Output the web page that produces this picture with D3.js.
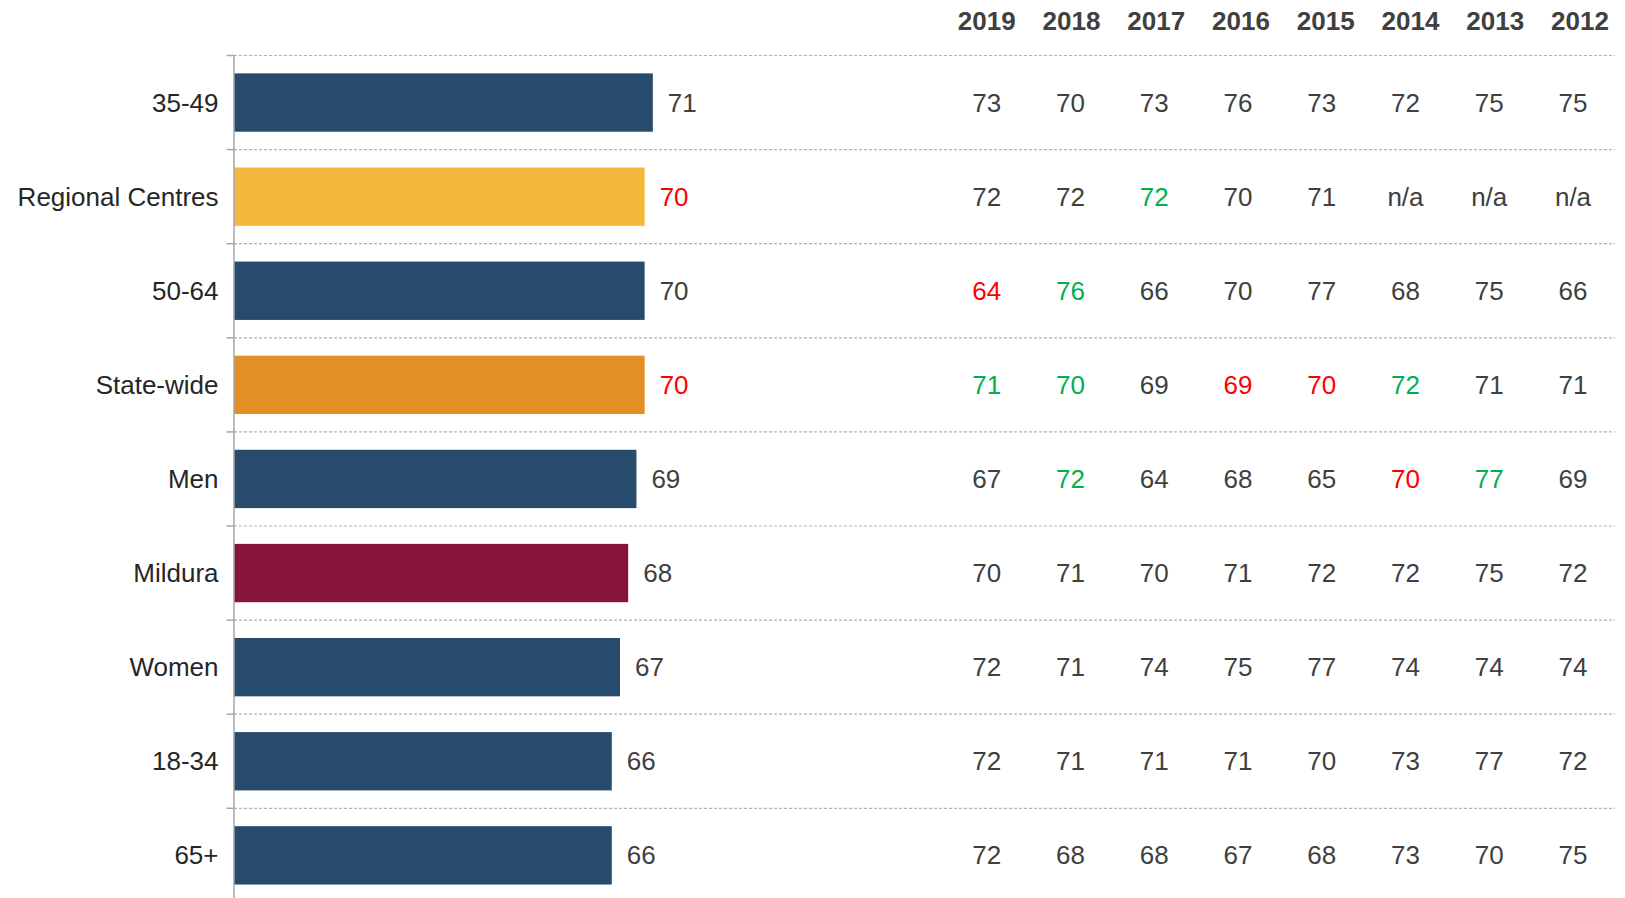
<!DOCTYPE html>
<html>
<head>
<meta charset="utf-8">
<script src="https://cdn.jsdelivr.net/npm/d3@7"></script>
<style>
  html, body { margin: 0; padding: 0; background: #ffffff; }
  svg { display: block; font-family: "Liberation Sans", Arial, sans-serif; }
</style>
</head>
<body>
<svg id="chart" width="1625" height="898"></svg>
<script>
// ---- data ----
const categories = ["35-49", "Regional Centres", "50-64", "State-wide", "Men", "Mildura", "Women", "18-34", "65+"];
const groupType  = ["segment", "regional", "segment", "state", "segment", "council", "segment", "segment", "segment"];
const score2020  = [71, 70, 70, 70, 69, 68, 67, 66, 66];
const score2020Sig = ["", "down", "", "down", "", "", "", "", ""];

const years = ["2019", "2018", "2017", "2016", "2015", "2014", "2013", "2012"];
const history = [
  [73, 70, 73, 76, 73, 72, 75, 75],
  [72, 72, 72, 70, 71, "n/a", "n/a", "n/a"],
  [64, 76, 66, 70, 77, 68, 75, 66],
  [71, 70, 69, 69, 70, 72, 71, 71],
  [67, 72, 64, 68, 65, 70, 77, 69],
  [70, 71, 70, 71, 72, 72, 75, 72],
  [72, 71, 74, 75, 77, 74, 74, 74],
  [72, 71, 71, 71, 70, 73, 77, 72],
  [72, 68, 68, 67, 68, 73, 70, 75]
];
const historySig = [
  ["", "", "", "", "", "", "", ""],
  ["", "", "up", "", "", "", "", ""],
  ["down", "up", "", "", "", "", "", ""],
  ["up", "up", "", "down", "down", "up", "", ""],
  ["", "up", "", "", "", "down", "up", ""],
  ["", "", "", "", "", "", "", ""],
  ["", "", "", "", "", "", "", ""],
  ["", "", "", "", "", "", "", ""],
  ["", "", "", "", "", "", "", ""]
];
const xDomain = [20, 100];

(function () {
// ---- styles ----
const barColor = { segment: "#274B6C", regional: "#F5B83C", state: "#E38F26", council: "#87143D" };
const sigColor = { "": "#404040", up: "#00B050", down: "#FF0000" };
const textColor = "#404040";
const fontSize = 26;

const svg = d3.select("#chart");
const axisX = 234, gridRight = 1615;
const plotTop = 55.5, rowStep = 94.1;

const x = d3.scaleLinear().domain(xDomain).range([axisX, 891]);
const y = d3.scaleBand().domain(categories)
  .range([plotTop, plotTop + rowStep * categories.length])
  .paddingInner(0.38).paddingOuter(0.19);

const headX = d3.scalePoint().domain(years).range([986.7, 1580]);
const colX = d3.scalePoint().domain(years).range([986.7, 1573]);

// gridlines at row boundaries
const boundaries = d3.range(categories.length + 1).map(i => plotTop + i * y.step());
svg.append("g").selectAll("line").data(boundaries).join("line")
  .attr("x1", axisX).attr("x2", gridRight)
  .attr("y1", d => d).attr("y2", d => d)
  .attr("stroke", "#b3b3b3").attr("stroke-width", 1.2)
  .attr("stroke-dasharray", "3,2");

// ticks
svg.append("g").selectAll("line").data(boundaries).join("line")
  .attr("x1", axisX - 7.5).attr("x2", axisX)
  .attr("y1", d => d).attr("y2", d => d)
  .attr("stroke", "#a6a6a6").attr("stroke-width", 1.5);

// bars
svg.append("g").selectAll("rect").data(categories).join("rect")
  .attr("x", x(xDomain[0]))
  .attr("y", d => y(d))
  .attr("height", y.bandwidth())
  .attr("width", (d, i) => x(score2020[i]) - x(xDomain[0]))
  .attr("fill", (d, i) => barColor[groupType[i]]);

// axis line
svg.append("line")
  .attr("x1", axisX).attr("x2", axisX)
  .attr("y1", plotTop).attr("y2", plotTop + rowStep * categories.length)
  .attr("stroke", "#a6a6a6").attr("stroke-width", 1.5);

// category labels
svg.append("g").selectAll("text").data(categories).join("text")
  .attr("x", 218.5)
  .attr("y", d => y(d) + y.bandwidth() / 2)
  .attr("dy", "0.35em")
  .attr("text-anchor", "end")
  .attr("font-size", fontSize)
  .attr("fill", "#262626")
  .text(d => d);

// bar value labels
svg.append("g").selectAll("text").data(categories).join("text")
  .attr("x", (d, i) => x(score2020[i]) + 15)
  .attr("y", d => y(d) + y.bandwidth() / 2)
  .attr("dy", "0.35em")
  .attr("font-size", fontSize)
  .attr("fill", (d, i) => sigColor[score2020Sig[i]])
  .text((d, i) => score2020[i]);

// year headers
svg.append("g").selectAll("text").data(years).join("text")
  .attr("x", d => headX(d))
  .attr("y", 21)
  .attr("dy", "0.35em")
  .attr("text-anchor", "middle")
  .attr("font-size", fontSize)
  .attr("font-weight", "bold")
  .attr("fill", textColor)
  .text(d => d);

// history table
const cells = [];
categories.forEach((c, i) => years.forEach((yr, j) => cells.push({ c, yr, v: history[i][j], s: historySig[i][j] })));
svg.append("g").selectAll("text").data(cells).join("text")
  .attr("x", d => colX(d.yr))
  .attr("y", d => y(d.c) + y.bandwidth() / 2)
  .attr("dy", "0.35em")
  .attr("text-anchor", "middle")
  .attr("font-size", fontSize)
  .attr("fill", d => sigColor[d.s])
  .text(d => d.v);
})();
</script>
</body>
</html>
